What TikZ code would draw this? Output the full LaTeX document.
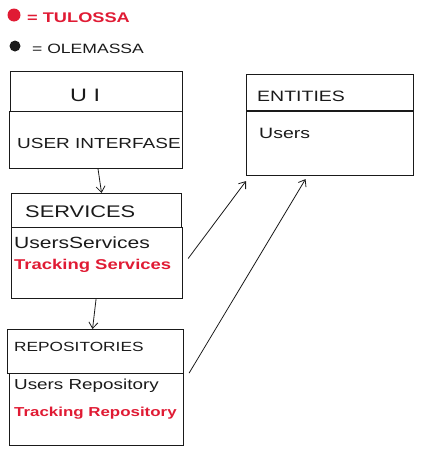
\documentclass[tikz,border=0pt]{standalone}
\usepackage{fontspec}
\setmainfont{Liberation Sans}
\newfontfamily\hand[FakeStretch=1.3]{Liberation Sans}
\usetikzlibrary{arrows.meta,calc}
\definecolor{hred}{HTML}{E01B34}
\definecolor{hink}{HTML}{1A1A1A}
\tikzset{
  box/.style={draw=hink, line width=1.1pt, anchor=north west, inner sep=0pt},
  lbl/.style={anchor=west, inner sep=0pt, text=hink, font=\hand},
  rlbl/.style={anchor=west, inner sep=0pt, text=hred, font=\hand\bfseries},
  link/.style={draw=hink, line width=0.8pt, -{Straight Barb[length=6pt,width=9pt]}}
}
\begin{document}
\begin{tikzpicture}[x=1pt,y=-1pt]
\useasboundingbox (0,0) rectangle (426,453);
% legend
\node[circle, fill=hred, minimum width=11pt, minimum height=13pt, inner sep=0pt] (dotred) at (14,15) {};
\node[rlbl, font=\hand\bfseries\fontsize{14}{14}\selectfont] (ltul) at (27,18) {= TULOSSA};
\node[circle, fill=hink, minimum size=11pt, inner sep=0pt] (dotblk) at (15,46) {};
\node[lbl, font=\hand\fontsize{13.5}{13.5}\selectfont] (lole) at (32,49) {= OLEMASSA};

% UI
\node[box, minimum width=172pt, minimum height=40pt] (uih) at (10,71) {};
\node[box, minimum width=173pt, minimum height=57pt] (uib) at (9,111) {};
\node[lbl, font=\hand\fontsize{18}{18}\selectfont] (uit) at (70,95) {U I};
\node[lbl, font=\hand\fontsize{14.6}{14.6}\selectfont] (uibt) at (17,143) {USER INTERFASE};

% Services
\node[box, minimum width=170pt, minimum height=34pt] (svh) at (11,193) {};
\node[box, minimum width=171pt, minimum height=71pt] (svb) at (11,227) {};
\node[lbl, font=\hand\fontsize{16.8}{16.8}\selectfont] (svt) at (25,212) {SERVICES};
\node[lbl, font=\hand\fontsize{16.2}{16.2}\selectfont] (svb1) at (14,243) {UsersServices};
\node[rlbl, font=\hand\bfseries\fontsize{14.2}{14.2}\selectfont] (svb2) at (14,266) {Tracking Services};

% Repositories
\node[box, minimum width=176pt, minimum height=44pt] (reh) at (7,329) {};
\node[box, minimum width=174pt, minimum height=72pt] (reb) at (9,373) {};
\node[lbl, font=\hand\fontsize{13.3}{13.3}\selectfont] (ret) at (14,347) {REPOSITORIES};
\node[lbl, font=\hand\fontsize{14.5}{14.5}\selectfont] (reb1) at (14,386) {Users Repository};
\node[rlbl, font=\hand\bfseries\fontsize{13}{13}\selectfont] (reb2) at (14,413) {Tracking Repository};

% Entities
\node[box, minimum width=167pt, minimum height=36pt] (enh) at (246,74) {};
\node[box, minimum width=167pt, minimum height=64pt] (enb) at (246,111) {};
\node[lbl, font=\hand\fontsize{15}{15}\selectfont] (ent) at (257,96) {ENTITIES};
\node[lbl, font=\hand\fontsize{15}{15}\selectfont] (enb1) at (259,133) {Users};

% connectors
\draw[link] ([xshift=2pt]uib.south) -- ([xshift=5pt]svh.north);
\draw[link] ([xshift=-1pt]svb.south) -- ([xshift=-3pt]reh.north);
\draw[link] ([xshift=5pt,yshift=4.5pt]svb.east) -- ([yshift=-5pt]enb.south west);
\draw[link] ([xshift=5pt,yshift=1pt]reh.south east) -- ([xshift=-24.5pt,yshift=-3pt]enb.south);
\end{tikzpicture}
\end{document}
